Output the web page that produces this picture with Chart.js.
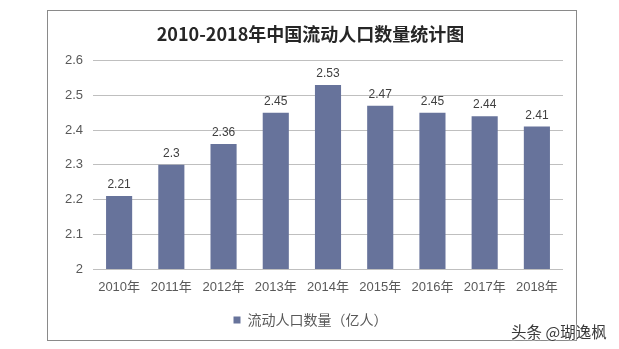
<!DOCTYPE html>
<html>
<head>
<meta charset="utf-8">
<script src="https://cdn.jsdelivr.net/npm/chart.js@4/dist/chart.umd.min.js"></script>
<style>
  html, body { margin: 0; padding: 0; background: #fff; }
  body { width: 619px; height: 349px; position: relative; overflow: hidden; }
  .frame {
    position: absolute; left: 47px; top: 10px;
    width: 528px; height: 329px;
    border: 1px solid #8a8a8a;
  }
  .frame canvas { display: block; }
  .mark {
    position: absolute; left: 511px; top: 320px;
    font: 15.5px 'Noto Sans CJK SC', sans-serif;
    color: #3a3a3a;
    text-shadow: 0 0 2px #fff, 0 0 2px #fff;
    white-space: nowrap;
  }
</style>
</head>
<body>
<div class="frame"><canvas id="flowChart" width="528" height="329"></canvas></div>
<div class="mark">头条 @瑚逸枫</div>
<script>
// 2010-2018 流动人口数量（亿人）
const years = ['2010年', '2011年', '2012年', '2013年', '2014年', '2015年', '2016年', '2017年', '2018年'];
const population = [2.21, 2.3, 2.36, 2.45, 2.53, 2.47, 2.45, 2.44, 2.41];
const yTicks = [2, 2.1, 2.2, 2.3, 2.4, 2.5, 2.6];
const seriesName = '流动人口数量（亿人）';
const chartTitle = '2010-2018年中国流动人口数量统计图';

const numFont = "'Liberation Sans', 'Noto Sans CJK SC', sans-serif";
const cjkFont = "'Noto Sans CJK SC', sans-serif";

// value text above each bar
const barValues = {
  id: 'barValues',
  afterDatasetsDraw(chart) {
    const ctx = chart.ctx;
    const meta = chart.getDatasetMeta(0);
    ctx.save();
    ctx.font = '12px ' + numFont;
    ctx.fillStyle = '#404040';
    ctx.textAlign = 'center';
    ctx.textBaseline = 'bottom';
    meta.data.forEach((bar, i) => {
      ctx.fillText(String(chart.data.datasets[0].data[i]), bar.x, bar.y - 5);
    });
    ctx.restore();
  }
};

new Chart(document.getElementById('flowChart'), {
  type: 'bar',
  data: {
    labels: years,
    datasets: [{
      label: seriesName,
      data: population,
      backgroundColor: '#67739b',
      categoryPercentage: 1,
      barPercentage: 0.5
    }]
  },
  options: {
    responsive: false,
    animation: false,
    layout: { padding: { left: 10, right: 13, top: 12, bottom: 3 } },
    scales: {
      x: {
        grid: { display: false, drawTicks: false },
        border: { display: false },
        ticks: { color: '#595959', font: { size: 13, family: numFont }, padding: 11 },
        afterFit(s) { s.height = 38; }
      },
      y: {
        min: 2,
        max: 2.6,
        afterBuildTicks(s) { s.ticks = yTicks.map(v => ({ value: v })); },
        grid: { color: '#bfbfbf', drawTicks: false },
        border: { display: false },
        ticks: {
          color: '#595959',
          font: { size: 13, family: numFont },
          padding: 10,
          callback: v => String(v)
        },
        afterFit(s) { s.width = 35; }
      }
    },
    plugins: {
      title: {
        display: true,
        text: chartTitle,
        color: '#262626',
        font: { size: 18, weight: 'bold', family: cjkFont },
        padding: { top: 0, bottom: 16 }
      },
      legend: {
        position: 'bottom',
        labels: {
          boxWidth: 7,
          boxHeight: 7,
          color: '#595959',
          font: { size: 14, family: cjkFont },
          padding: 6
        }
      },
      tooltip: { enabled: false }
    }
  },
  plugins: [barValues]
});
</script>
</body>
</html>
